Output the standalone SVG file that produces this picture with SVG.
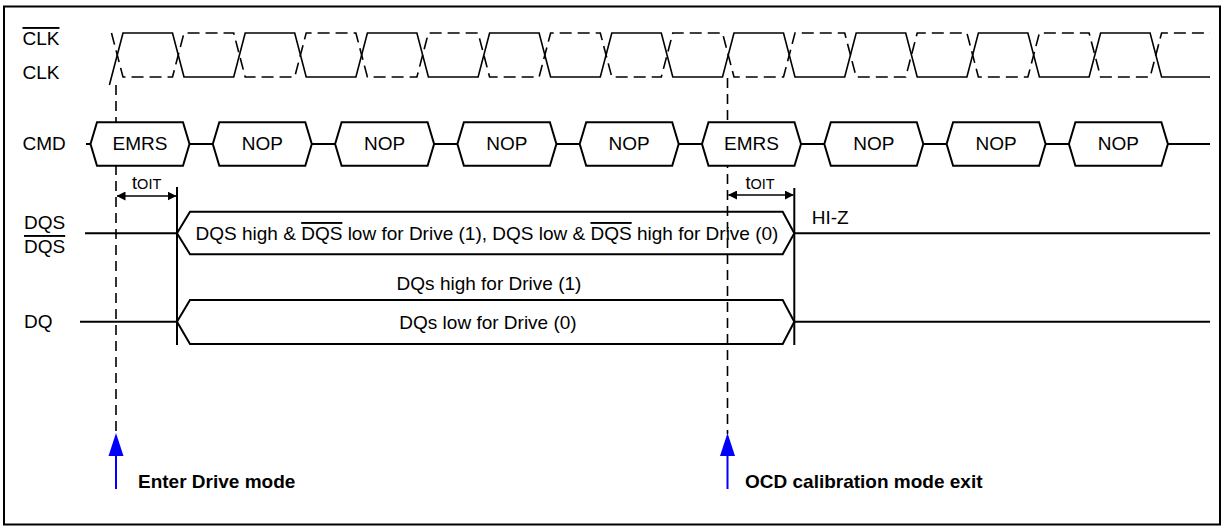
<svg xmlns="http://www.w3.org/2000/svg" width="1224" height="531" viewBox="0 0 1224 531">
<style>
text{font-family:"Liberation Sans",Arial,sans-serif;font-size:19px;fill:#000}
.c{text-anchor:middle}
.b{font-weight:bold}
.ov{text-decoration:overline}
.w{fill:none;stroke:#000;stroke-width:1.6}
.d{stroke-dasharray:12 6}
.bus{fill:none;stroke:#000;stroke-width:2}
.hex{fill:#fff;stroke:#000;stroke-width:2}
.ln{stroke:#000;stroke-width:2;fill:none}
.vd{stroke:#000;stroke-width:1.6;stroke-dasharray:10 6;fill:none}
.blue{stroke:#0000ff;stroke-width:2;fill:none}
</style>
<defs>
<marker id="ah" markerWidth="9" markerHeight="9" refX="8.5" refY="4.5" orient="auto-start-reverse" markerUnits="userSpaceOnUse">
<path d="M0,0 L9,4.5 L0,9 Z" fill="#000"/>
</marker>
</defs>
<rect x="4" y="6.5" width="1216" height="518" fill="#fff" stroke="#000" stroke-width="2"/>

<g id="labels">
<text x="22.5" y="45" class="ov">CLK</text>
<text x="22.5" y="79">CLK</text>
<text x="22.5" y="149.5">CMD</text>
<text x="24" y="229">DQS</text>
<text x="24" y="253" class="ov">DQS</text>
<text x="24" y="327.5">DQ</text>
</g>

<g id="connectors">
<line class="vd" x1="116" y1="85" x2="116" y2="434"/>
<line class="vd" x1="727.5" y1="78" x2="727.5" y2="434"/>
<line class="ln" x1="177" y1="187" x2="177" y2="345"/>
<line class="ln" x1="794.3" y1="188" x2="794.3" y2="345"/>
<line x1="117" y1="196" x2="176" y2="196" stroke="#000" stroke-width="1.6" marker-start="url(#ah)" marker-end="url(#ah)"/>
<line x1="728.5" y1="195" x2="793.3" y2="195" stroke="#000" stroke-width="1.6" marker-start="url(#ah)" marker-end="url(#ah)"/>
<line class="blue" x1="116" y1="455" x2="116" y2="489"/>
<polygon points="116,433 108.5,456 123.5,456" fill="#0000ff"/>
<line class="blue" x1="727.5" y1="455" x2="727.5" y2="489"/>
<polygon points="727.5,433 720,456 735,456" fill="#0000ff"/>
</g>

<g id="clk">
<path class="w" d="M109.4,85 L123,33 H172.5 L184,77 H233.7 L245.2,33 H294.7 L306.2,77 H355.9 L367.4,33 H416.9 L428.4,77 H478.1 L489.6,33 H539.1 L550.6,77 H600.3 L611.8,33 H661.3 L672.8,77 H722.5 L734,33 H783.5 L795,77 H844.7 L856.2,33 H905.7 L917.2,77 H966.9 L978.4,33 H1027.9 L1039.4,77 H1089.1 L1100.6,33 H1150.1 L1161.6,77 H1210"/>
</g>
<g id="clk_n">
<path class="w d" d="M111.5,33 L123,77 H172.5 L184,33 H233.7 L245.2,77 H294.7 L306.2,33 H355.9 L367.4,77 H416.9 L428.4,33 H478.1 L489.6,77 H539.1 L550.6,33 H600.3 L611.8,77 H661.3 L672.8,33 H722.5 L734,77 H783.5 L795,33 H844.7 L856.2,77 H905.7 L917.2,33 H966.9 L978.4,77 H1027.9 L1039.4,33 H1089.1 L1100.6,77 H1150.1 L1161.6,33 H1210"/>
</g>

<g id="cmd">
<line class="ln" x1="86" y1="144" x2="1210" y2="144"/>
<g id="cmd0"><polygon class="hex" points="90.5,144 97,122.3 183,122.3 189.5,144 183,165.7 97,165.7"/><text class="c" x="140" y="150">EMRS</text></g>
<g id="cmd1"><polygon class="hex" points="212.8,144 219.3,122.3 305.3,122.3 311.8,144 305.3,165.7 219.3,165.7"/><text class="c" x="262.3" y="150">NOP</text></g>
<g id="cmd2"><polygon class="hex" points="335.1,144 341.6,122.3 427.6,122.3 434.1,144 427.6,165.7 341.6,165.7"/><text class="c" x="384.6" y="150">NOP</text></g>
<g id="cmd3"><polygon class="hex" points="457.4,144 463.9,122.3 549.9,122.3 556.4,144 549.9,165.7 463.9,165.7"/><text class="c" x="506.9" y="150">NOP</text></g>
<g id="cmd4"><polygon class="hex" points="579.7,144 586.2,122.3 672.2,122.3 678.7,144 672.2,165.7 586.2,165.7"/><text class="c" x="629.2" y="150">NOP</text></g>
<g id="cmd5"><polygon class="hex" points="702,144 708.5,122.3 794.5,122.3 801,144 794.5,165.7 708.5,165.7"/><text class="c" x="751.5" y="150">EMRS</text></g>
<g id="cmd6"><polygon class="hex" points="824.3,144 830.8,122.3 916.8,122.3 923.3,144 916.8,165.7 830.8,165.7"/><text class="c" x="873.8" y="150">NOP</text></g>
<g id="cmd7"><polygon class="hex" points="946.6,144 953.1,122.3 1039.1,122.3 1045.6,144 1039.1,165.7 953.1,165.7"/><text class="c" x="996.1" y="150">NOP</text></g>
<g id="cmd8"><polygon class="hex" points="1068.9,144 1075.4,122.3 1161.4,122.3 1167.9,144 1161.4,165.7 1075.4,165.7"/><text class="c" x="1118.4" y="150">NOP</text></g>
</g>

<g id="toit">
<text class="c" x="146.7" y="189"><tspan font-size="18">t</tspan><tspan font-size="14.5">OIT</tspan></text>
<text class="c" x="760" y="189"><tspan font-size="18">t</tspan><tspan font-size="14.5">OIT</tspan></text>
</g>

<g id="dqs">
<line class="ln" x1="85" y1="233.3" x2="177" y2="233.3"/>
<path class="bus" d="M177,233.3 L190,211.7 H782.7 L794.3,233.3 L782.7,254.3 H190 Z"/>
<line class="ln" x1="794.3" y1="233.3" x2="1210" y2="233.3"/>
<text class="c" x="487" y="240">DQS high &amp; <tspan class="ov">DQS</tspan> low for Drive (1), DQS low &amp; <tspan class="ov">DQS</tspan> high for Drive (0)</text>
<text x="811.7" y="223.5">HI-Z</text>
</g>

<g id="dq">
<line class="ln" x1="80" y1="321.7" x2="177" y2="321.7"/>
<path class="bus" d="M177,321.7 L190,300 H782.7 L794.3,321.7 L782.7,344 H190 Z"/>
<line class="ln" x1="794.3" y1="321.7" x2="1210" y2="321.7"/>
<text class="c" x="489" y="290">DQs high for Drive (1)</text>
<text class="c" x="488" y="328.5">DQs low for Drive (0)</text>
</g>

<g id="notes">
<text class="b" x="138" y="488">Enter Drive mode</text>
<text class="b" x="745" y="488">OCD calibration mode exit</text>
</g>
</svg>
